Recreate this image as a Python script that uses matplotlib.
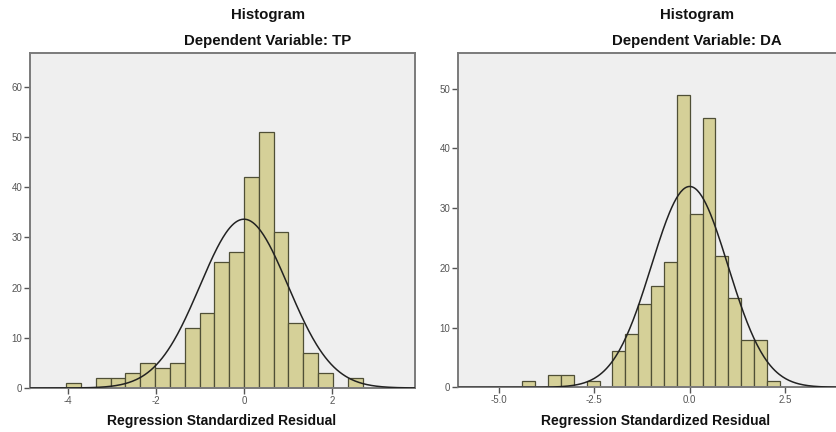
import numpy as np
import matplotlib
matplotlib.use("Agg")
import matplotlib.pyplot as plt

plt.rcParams['font.family'] = ['Liberation Sans', 'DejaVu Sans']

# Residual histogram counts (both models, N = 250)
bin_width = 0.337
tp_first_bin = -12          # first bin starts at -12 * bin_width
tp_counts = [1, 0, 2, 2, 3, 5, 4, 5, 12, 15, 25, 27, 42, 51, 31, 13, 7, 3, 0, 2]
da_first_bin = -13
da_counts = [1, 0, 2, 2, 0, 1, 0, 6, 9, 14, 17, 21, 49, 29, 45, 22, 15, 8, 8, 1]
n_obs = 250
resid_mean = 0.0
resid_std = 1.0

tp_xticks = [-4, -2, 0, 2]
tp_xlabels = ['-4', '-2', '0', '2']
tp_yticks = [0, 10, 20, 30, 40, 50, 60]
da_xticks = [-5.0, -2.5, 0.0, 2.5]
da_xlabels = ['-5.0', '-2.5', '0.0', '2.5']
da_yticks = [0, 10, 20, 30, 40, 50]

W, H = 837, 432
fig = plt.figure(figsize=(W / 100, H / 100), dpi=100)
fig.patch.set_facecolor('white')


def px_axes(x0, x1, y0, y1):
    return fig.add_axes([x0 / W, 1 - y1 / H, (x1 - x0) / W, (y1 - y0) / H])


def draw_hist(ax, first_bin, counts, xlim, ylim, xticks, xlabels, yticks):
    ax.set_facecolor('#efefef')
    lefts = (np.arange(len(counts)) + first_bin) * bin_width
    ax.bar(lefts, counts, width=bin_width, align='edge',
           color='#d5d098', edgecolor='#4f4f36', linewidth=0.9, zorder=2)
    xs = np.linspace(xlim[0], xlim[1], 400)
    pdf = np.exp(-0.5 * ((xs - resid_mean) / resid_std) ** 2) / (resid_std * np.sqrt(2 * np.pi))
    ax.plot(xs, n_obs * bin_width * pdf, color='#222222', linewidth=1.1, zorder=3)
    ax.set_xlim(*xlim)
    ax.set_ylim(*ylim)
    ax.set_xticks(xticks)
    ax.set_xticklabels(xlabels)
    ax.set_yticks(yticks)
    for s in ax.spines.values():
        s.set_color('#7a7a7a')
        s.set_linewidth(1.4)
    ax.tick_params(axis='both', direction='out', length=4, width=1.0,
                   color='#555555', labelsize=7, labelcolor='#555555', pad=1.5)


# Left panel: TP
ax1 = px_axes(30, 415, 53, 388)
draw_hist(ax1, tp_first_bin, tp_counts, (-4.864, 3.886), (0, 66.7),
          tp_xticks, tp_xlabels, tp_yticks)

# Right panel: DA (cut off at the right edge)
ax2 = px_axes(458, 900, 53, 387.3)
draw_hist(ax2, da_first_bin, da_counts, (-6.06, 5.5), (0, 55.95),
          da_xticks, da_xlabels, da_yticks)

title_kw = dict(ha='center', va='center', fontsize=10.8, fontweight='bold', color='#111111')
fig.text(268 / W, 1 - 15 / H, 'Histogram', **title_kw)
fig.text(268 / W, 1 - 41.5 / H, 'Dependent Variable: TP', **title_kw)
fig.text(697 / W, 1 - 15 / H, 'Histogram', **title_kw)
fig.text(697 / W, 1 - 41.5 / H, 'Dependent Variable: DA', **title_kw)

label_kw = dict(ha='center', va='center', fontsize=10, fontweight='bold', color='#111111')
fig.text(222 / W, 1 - 421.5 / H, 'Regression Standardized Residual', **label_kw)
fig.text(656 / W, 1 - 421.5 / H, 'Regression Standardized Residual', **label_kw)

fig.savefig('out.png', dpi=100)
